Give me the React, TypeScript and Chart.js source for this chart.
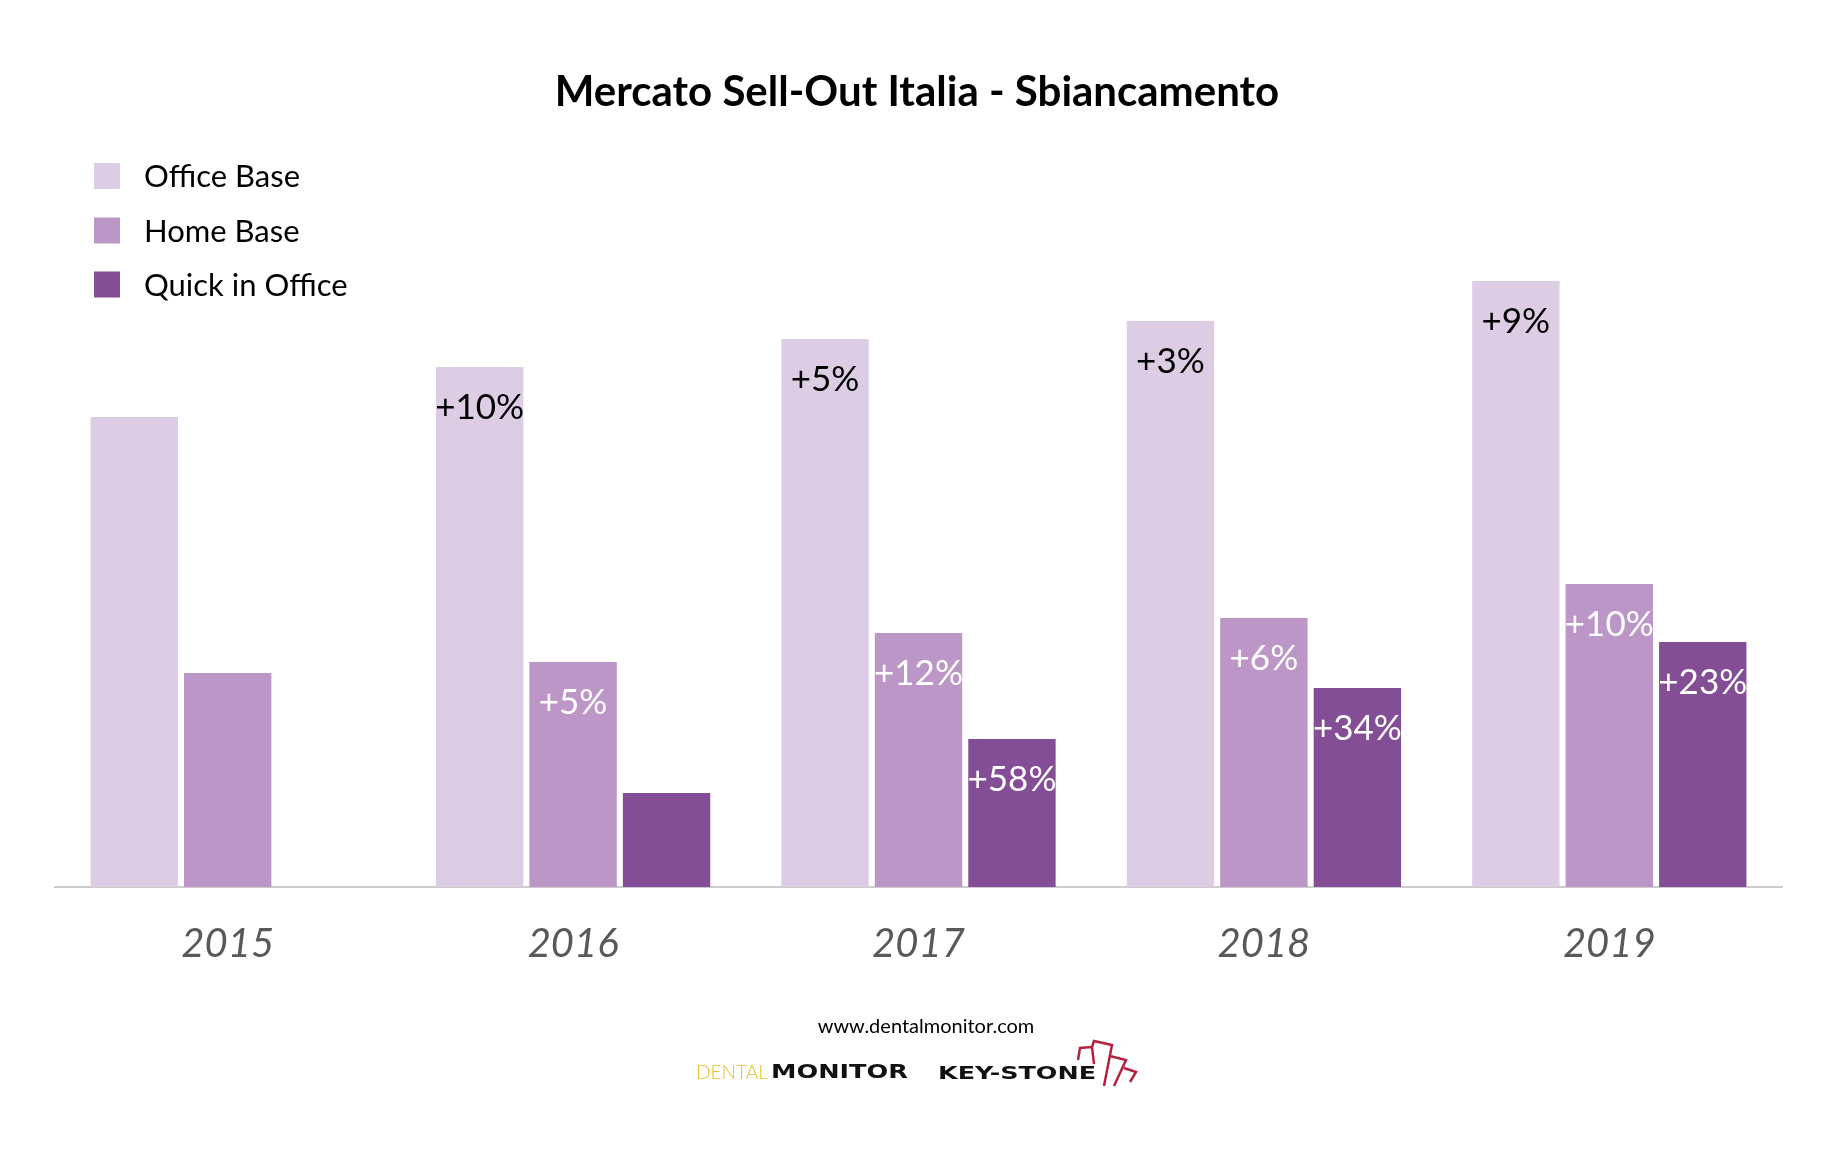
import React, { useEffect, useRef } from "react";
import { Chart, registerables } from "chart.js";

Chart.register(...registerables);

const TITLE = "Mercato Sell-Out Italia - Sbiancamento";
const YEARS = ["2015", "2016", "2017", "2018", "2019"];
const SERIES_NAMES = ["Office Base", "Home Base", "Quick in Office"];
const OFFICE_BASE = [470, 520, 548, 566, 606];
const HOME_BASE = [214, 225, 254, 269, 303];
const QUICK_IN_OFFICE = [null, 94, 148, 199, 245];
const OFFICE_GROWTH = ["", "+10%", "+5%", "+3%", "+9%"];
const HOME_GROWTH = ["", "+5%", "+12%", "+6%", "+10%"];
const QUICK_GROWTH = ["", "", "+58%", "+34%", "+23%"];
const FOOTER_URL = "www.dentalmonitor.com";

const COLORS = ["#dccde5", "#bb96c7", "#844e97"];
const LABEL_COLORS = ["#000000", "#ffffff", "#ffffff"];
const GROWTH = [OFFICE_GROWTH, HOME_GROWTH, QUICK_GROWTH];

const W = 1836;
const H = 1154;
const AXIS_Y = 887;

function stretchedText(ctx: CanvasRenderingContext2D, text: string, x: number, y: number, width: number) {
  const m = ctx.measureText(text).width;
  ctx.save();
  ctx.translate(x, y);
  ctx.scale(width / m, 1);
  ctx.textAlign = "left";
  ctx.fillText(text, 0, 0);
  ctx.restore();
}

const decorPlugin = {
  id: "decor",
  afterDatasetsDraw(chart: any) {
    const ctx = chart.ctx as CanvasRenderingContext2D;
    chart.data.datasets.forEach((_ds: any, di: number) => {
      const meta = chart.getDatasetMeta(di);
      meta.data.forEach((bar: any, i: number) => {
        const t = GROWTH[di][i];
        if (!t) return;
        ctx.save();
        ctx.font = "35px Lato";
        ctx.fillStyle = LABEL_COLORS[di];
        ctx.textAlign = "center";
        ctx.textBaseline = "middle";
        ctx.fillText(t, bar.x, bar.y + 41);
        ctx.restore();
      });
    });
  },
  afterDraw(chart: any) {
    const ctx = chart.ctx as CanvasRenderingContext2D;
    ctx.save();
    // title
    ctx.font = "bold 42px Lato";
    ctx.fillStyle = "#000000";
    ctx.textAlign = "center";
    ctx.textBaseline = "middle";
    ctx.fillText(TITLE, 917, 92);

    // legend
    const rows = [176, 230.5, 284.5];
    chart.data.datasets.forEach((ds: any, di: number) => {
      ctx.fillStyle = ds.backgroundColor;
      ctx.fillRect(94, rows[di] - 13, 26, 26);
      ctx.fillStyle = "#000000";
      ctx.font = "31px Lato";
      ctx.textAlign = "left";
      ctx.textBaseline = "middle";
      ctx.fillText(ds.label, 144, rows[di] + 1);
    });

    // footer url
    ctx.font = "20px Lato";
    ctx.fillStyle = "#000000";
    ctx.textAlign = "center";
    ctx.textBaseline = "middle";
    ctx.fillText(FOOTER_URL, 926, 1027);

    // logos
    ctx.textBaseline = "middle";
    ctx.font = "300 19px Lato";
    ctx.fillStyle = "#e3c12f";
    stretchedText(ctx, "DENTAL", 696, 1073, 72);
    ctx.font = "900 19px 'DejaVu Sans'";
    ctx.fillStyle = "#111111";
    stretchedText(ctx, "MONITOR", 771, 1073, 137);
    ctx.font = "bold 18px 'DejaVu Sans'";
    stretchedText(ctx, "KEY-STONE", 938, 1074, 158);
    ctx.strokeStyle = "#b3213f";
    ctx.lineWidth = 2.5;
    ctx.beginPath();
    ctx.moveTo(1078, 1060); ctx.lineTo(1080, 1048); ctx.lineTo(1092, 1047); ctx.lineTo(1094, 1064);
    ctx.moveTo(1092, 1047); ctx.lineTo(1094, 1041); ctx.lineTo(1112, 1045); ctx.lineTo(1104, 1086);
    ctx.moveTo(1110, 1056); ctx.lineTo(1126, 1060); ctx.lineTo(1114, 1086);
    ctx.moveTo(1124, 1068); ctx.lineTo(1136, 1072); ctx.lineTo(1130, 1082);
    ctx.stroke();
    ctx.restore();
  },
};

export default function App() {
  const ref = useRef<HTMLCanvasElement | null>(null);

  useEffect(() => {
    if (!ref.current) return;
    const chart = new Chart(ref.current, {
      type: "bar",
      data: {
        labels: YEARS,
        datasets: [
          { label: SERIES_NAMES[0], data: OFFICE_BASE, backgroundColor: COLORS[0] },
          { label: SERIES_NAMES[1], data: HOME_BASE, backgroundColor: COLORS[1] },
          { label: SERIES_NAMES[2], data: QUICK_IN_OFFICE as any, backgroundColor: COLORS[2] },
        ],
      },
      options: {
        animation: false,
        responsive: true,
        maintainAspectRatio: false,
        datasets: {
          bar: { categoryPercentage: 0.8117, barPercentage: 0.935, borderWidth: 0 },
        },
        layout: { padding: { left: 55, right: 54, top: 279, bottom: 0 } },
        plugins: {
          legend: { display: false },
          title: { display: false },
          tooltip: { enabled: false },
        },
        scales: {
          x: {
            grid: { display: false, drawTicks: false },
            border: { display: true, color: "#cccccc", width: 2 },
            ticks: {
              color: "#595959",
              font: { family: "Lato", style: "italic", size: 40 },
              padding: 33,
            },
            afterFit(scale: any) {
              scale.height = H - AXIS_Y;
            },
          },
          y: { display: false, min: 0, max: 608 },
        },
      },
      plugins: [decorPlugin],
    });
    return () => chart.destroy();
  }, []);

  return (
    <div style={{ position: "fixed", left: 0, top: 0, width: W, height: H, background: "#ffffff" }}>
      <canvas ref={ref} />
    </div>
  );
}
